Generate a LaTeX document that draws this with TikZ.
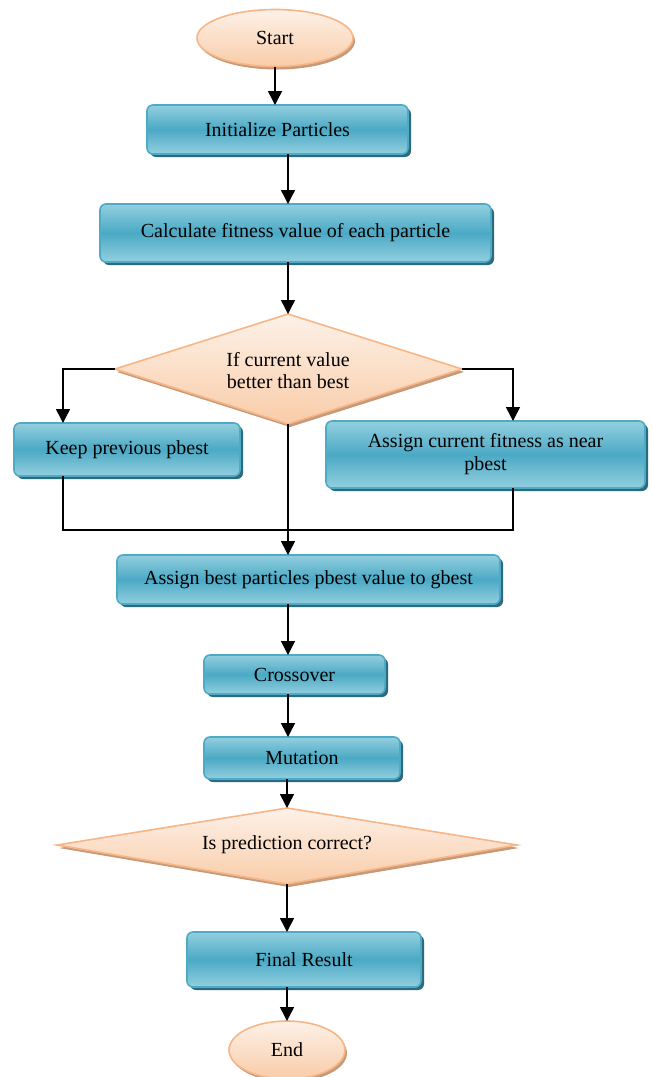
\documentclass[tikz,border=0pt]{standalone}
\usepackage{fontspec}
\setmainfont{Liberation Serif}
\usetikzlibrary{arrows.meta,shapes.geometric,shadows}

\definecolor{boxmid}{HTML}{4BA9C5}
\definecolor{boxedge}{HTML}{93CFDF}
\definecolor{boxline}{HTML}{4FAAC6}
\definecolor{boxshade}{HTML}{2C6B7D}
\definecolor{peachlight}{HTML}{FDF1E8}
\definecolor{peachdark}{HTML}{F9CCA8}
\definecolor{peachline}{HTML}{F8B585}
\definecolor{peachshade}{HTML}{C49A7A}

\begin{document}
\begin{tikzpicture}[x=0.5pt,y=-0.5pt,
  procbox/.style={rectangle, rounded corners=3pt, draw=boxline, line width=0.8pt,
    top color=boxedge, bottom color=boxedge, middle color=boxmid,
    drop shadow={shadow xshift=1.5pt, shadow yshift=-1.5pt, fill=boxshade, opacity=1},
    inner sep=0pt, outer sep=0pt, align=center, font=\fontsize{10}{11.5}\selectfont},
  termnode/.style={ellipse, draw=peachline, line width=0.8pt,
    top color=peachlight, bottom color=peachdark,
    drop shadow={shadow xshift=1pt, shadow yshift=-1.5pt, fill=peachshade, opacity=1},
    inner sep=0pt, outer sep=0pt},
  decshape/.style={draw=peachline, line width=0.8pt, line join=miter,
    top color=peachlight, bottom color=peachdark,
    drop shadow={shadow xshift=1pt, shadow yshift=-1.5pt, fill=peachshade, opacity=1}},
  dectext/.style={inner sep=0pt, align=center, font=\fontsize{10}{11}\selectfont},
  arr/.style={-{Triangle[length=7pt,width=7pt]}, line width=0.75pt},
  link/.style={line width=0.75pt}]
\useasboundingbox (0,0) rectangle (653,1077);

%terminals
\node[termnode, minimum width=78pt, minimum height=28.5pt] (start) at (275,38) {Start};
\node[termnode, minimum width=58pt, minimum height=29pt] (end) at (287,1050) {End};

%boxes
\node[procbox, minimum width=130.5pt, minimum height=24.5pt] (init) at (277.5,129.5) {Initialize Particles};
\node[procbox, minimum width=195.5pt, minimum height=29pt] (calc) at (295.5,233) {Calculate fitness value of each particle};
\node[procbox, minimum width=113pt, minimum height=26.5pt] (keep) at (127,449.5) {Keep previous pbest};
\node[procbox, minimum width=159.5pt, minimum height=33.5pt] (near) at (485.5,454.5) {Assign current fitness as near\\pbest};
\node[procbox, minimum width=191.5pt, minimum height=24.5pt] (best) at (308.5,579.5) {Assign best particles pbest value to gbest};
\node[procbox, minimum width=90.5pt, minimum height=19.5pt] (cross) at (294.5,674.5) {Crossover};
\node[procbox, minimum width=98pt, minimum height=21pt] (mut) at (302,758) {Mutation};
\node[procbox, minimum width=117pt, minimum height=27.5pt] (final) at (304,959.5) {Final Result};

%decisions
\coordinate (dec1n) at (288,314);
\coordinate (dec1e) at (462,369);
\coordinate (dec1s) at (288,424);
\coordinate (dec1w) at (115,369);
\path[decshape] (dec1n) -- (dec1e) -- (dec1s) -- (dec1w) -- cycle;
\node[dectext] (dec1) at (288,371) {If current value\\better than best};

\coordinate (dec2n) at (287,808);
\coordinate (dec2e) at (517,845);
\coordinate (dec2s) at (287,884);
\coordinate (dec2w) at (57,845);
\path[decshape] (dec2n) -- (dec2e) -- (dec2s) -- (dec2w) -- cycle;
\node[dectext] (dec2) at (287,845) {Is prediction correct?};

%arrows
\draw[arr] (start.south) -- (start.south |- init.north);
\draw[arr] (init.south -| dec1n) -- (calc.north -| dec1n);
\draw[arr] (calc.south -| dec1n) -- (dec1n);
\draw[arr] (dec1w) -| (keep.north -| 63,0);
\draw[arr] (dec1e) -| (near.north -| 513,0);
\draw[arr] (dec1s) -- (best.north -| dec1s);
\draw[link] (keep.south -| 63,0) |- (513,530) -- (near.south -| 513,0);
\draw[arr] (best.south -| dec1s) -- (cross.north -| dec1s);
\draw[arr] (cross.south -| dec1s) -- (mut.north -| dec1s);
\draw[arr] (mut.south -| dec2n) -- (dec2n);
\draw[arr] (dec2s) -- (final.north -| dec2s);
\draw[arr] (final.south -| dec2s) -- (end.north);
\end{tikzpicture}
\end{document}
